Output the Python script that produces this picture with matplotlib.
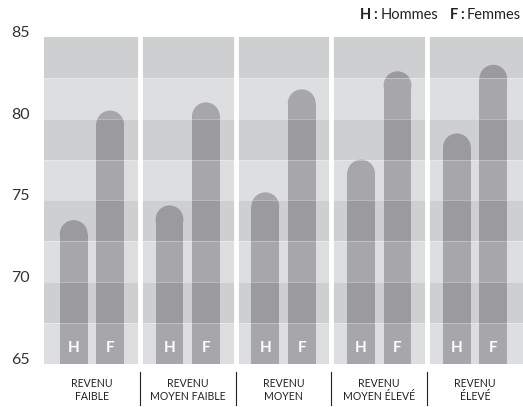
import numpy as np
import matplotlib
matplotlib.use('Agg')
import matplotlib.pyplot as plt
from matplotlib.patches import Ellipse

plt.rcParams['font.family'] = ['Lato', 'DejaVu Sans']

# data
groups = ['REVENU\nFAIBLE', 'REVENU\nMOYEN FAIBLE', 'REVENU\nMOYEN',
          'REVENU\nMOYEN ÉLEVÉ', 'REVENU\nÉLEVÉ']
hommes = [73.8, 74.7, 75.5, 77.5, 79.1]
femmes = [80.5, 81.0, 81.8, 82.9, 83.3]
yticks = [65, 70, 75, 80, 85]

W, H = 523, 407
fig = plt.figure(figsize=(W / 100, H / 100), dpi=100)
ax = fig.add_axes([44 / W, 43 / H, 479 / W, 327 / H])
ymin, ymax = 65, 85
ax.set_xlim(-0.5, 4.5)
ax.set_ylim(ymin, ymax)
ax.axis('off')

light_bg = '#dddee0'
bar_col = '#a7a7ab'

# background
ax.axhspan(ymin, ymax, color=light_bg, zorder=0)

# pixel scale
px_x = 479 / 5.0
px_y = 327 / 20.0
bw = 0.29
off = 0.19
r_y = (bw * px_x / 2) / px_y   # radius of cap in y units

x = np.arange(len(groups))
for vals, sgn, lab in [(hommes, -1, 'H'), (femmes, 1, 'F')]:
    xs = x + sgn * off
    ax.bar(xs, np.array(vals) - r_y - ymin, bottom=ymin, width=bw,
           color=bar_col, linewidth=0, zorder=2)
    for xi, v in zip(xs, vals):
        ax.add_patch(Ellipse((xi, v - r_y), bw, 2 * r_y, color=bar_col,
                             linewidth=0, zorder=2))
        ax.text(xi, 66.0, lab, ha='center', va='center', color='white',
                fontsize=11, fontweight='bold', zorder=5)

# darker alternating bands (overlay)
for b in np.arange(67.5, 85, 5):
    ax.axhspan(b, b + 2.5, color='black', alpha=0.065, linewidth=0, zorder=3)
for b in np.arange(67.5, 85, 2.5):
    ax.axhline(b, color='white', alpha=0.35, lw=0.6, zorder=3)

# white panel separators
for s in x[:-1] + 0.5:
    ax.axvline(s, color='white', lw=3.5, zorder=4)

# y tick labels
for t in yticks:
    yp = 43 + (t - ymin) * px_y + 4
    fig.text(30 / W, yp / H, str(t), ha='right', va='center',
             fontsize=11.5, color='#333333')

# x labels and separators
for i, g in enumerate(groups):
    xc = (44 + (i + 0.5) * px_x) / W
    fig.text(xc, 17 / H, g, ha='center', va='center', fontsize=7.6,
             color='#222222', linespacing=1.25)
    if i < len(groups) - 1:
        xs = (44 + (i + 1) * px_x) / W
        fig.add_artist(plt.Line2D([xs, xs], [2 / H, 35 / H], color='#222222',
                                  lw=0.8, transform=fig.transFigure))

# legend, laid out right to left (gap = space left of each piece)
rend = fig.canvas.get_renderer()
ly = 392 / H
pieces = [('H', 'bold', 0), (':', 'bold', 2), ('Hommes', 'normal', 3),
          ('F', 'bold', 12), (':', 'bold', 2), ('Femmes', 'normal', 3)]
xr = 521
for s, wgt, gap in reversed(pieces):
    t = fig.text(xr / W, ly, s, fontsize=10.5, fontweight=wgt, color='#222222',
                 ha='right', va='center')
    w = t.get_window_extent(rend).width
    xr = xr - w - gap

fig.savefig('out.png', dpi=100, facecolor='white')
